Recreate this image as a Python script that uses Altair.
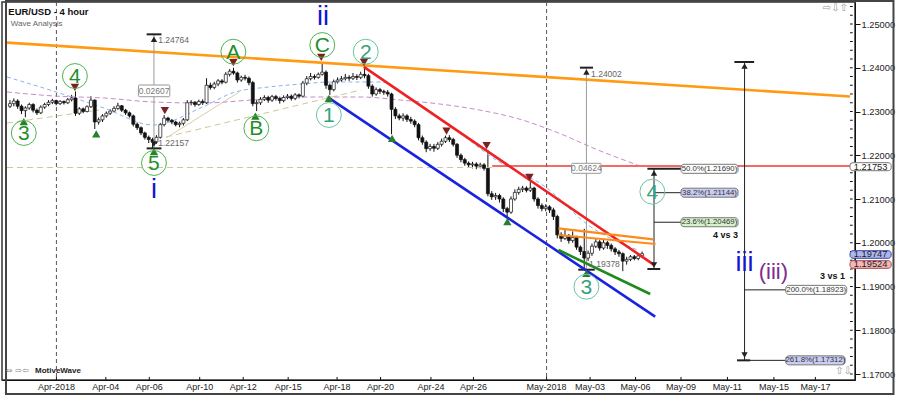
import altair as alt
import pandas as pd

# ---------------- price series (4-hour bars, bar index 0..164) ----------------
FIRST_OPEN = 1.2312
CLOSE = [
    1.2318, 1.2324, 1.2312, 1.2302, 1.2308, 1.2316, 1.2303, 1.2297, 1.2310, 1.2316,
    1.2321, 1.2325, 1.2318, 1.2323, 1.2320, 1.2327, 1.2331, 1.2296, 1.2306, 1.2300,
    1.2311, 1.2326, 1.2276, 1.2281, 1.2290, 1.2296, 1.2301, 1.2307, 1.2313, 1.2303,
    1.2297, 1.2290, 1.2271, 1.2263, 1.2251, 1.2241, 1.2236, 1.2230, 1.2241, 1.2270,
    1.2285, 1.2280, 1.2276, 1.2270, 1.2273, 1.2281, 1.2320, 1.2321, 1.2316, 1.2323,
    1.2320, 1.2360, 1.2355, 1.2363, 1.2370, 1.2367, 1.2385, 1.2392, 1.2388, 1.2372,
    1.2378, 1.2376, 1.2366, 1.2318, 1.2320, 1.2328, 1.2332, 1.2326, 1.2334, 1.2330,
    1.2325, 1.2332, 1.2335, 1.2330, 1.2338, 1.2335, 1.2365, 1.2375, 1.2380, 1.2378,
    1.2385, 1.2390, 1.2360, 1.2350, 1.2368, 1.2372, 1.2375, 1.2378, 1.2376, 1.2380,
    1.2378, 1.2385, 1.2382, 1.2358, 1.2340, 1.2350, 1.2346, 1.2344, 1.2340, 1.2305,
    1.2290, 1.2285, 1.2290, 1.2282, 1.2278, 1.2270, 1.2240, 1.2230, 1.2215, 1.2220,
    1.2216, 1.2225, 1.2232, 1.2240, 1.2236, 1.2225, 1.2200, 1.2190, 1.2182, 1.2178,
    1.2180, 1.2175, 1.2178, 1.2170, 1.2112, 1.2105, 1.2108, 1.2100, 1.2078, 1.2070,
    1.2100, 1.2115, 1.2122, 1.2125, 1.2120, 1.2125, 1.2100, 1.2085, 1.2078, 1.2082,
    1.2075, 1.2060, 1.2018, 1.2010, 1.2016, 1.2005, 1.2012, 1.1990, 1.1980, 1.1965,
    1.1976, 1.1992, 1.2002, 1.1988, 1.2000, 1.1994, 1.1986, 1.1979, 1.1975, 1.1958,
    1.1962, 1.1968, 1.1964, 1.1970, 1.1975,
]
HIGH = [
    1.2326, 1.2330, 1.2328, 1.2316, 1.2312, 1.2320, 1.2319, 1.2307, 1.2314, 1.2320,
    1.2326, 1.2329, 1.2327, 1.2326, 1.2325, 1.2331, 1.2338, 1.2346, 1.2310, 1.2309,
    1.2314, 1.2335, 1.2328, 1.2286, 1.2294, 1.2300, 1.2305, 1.2312, 1.2320, 1.2315,
    1.2306, 1.2300, 1.2293, 1.2275, 1.2266, 1.2254, 1.2245, 1.2240, 1.2246, 1.2274,
    1.2292, 1.2288, 1.2283, 1.2279, 1.2277, 1.2285, 1.2326, 1.2326, 1.2324, 1.2327,
    1.2328, 1.2376, 1.2366, 1.2368, 1.2374, 1.2374, 1.2390, 1.2397, 1.2400, 1.2391,
    1.2382, 1.2384, 1.2380, 1.2370, 1.2326, 1.2333, 1.2337, 1.2336, 1.2338, 1.2338,
    1.2334, 1.2337, 1.2340, 1.2339, 1.2342, 1.2341, 1.2370, 1.2381, 1.2388, 1.2385,
    1.2389, 1.2410, 1.2394, 1.2364, 1.2373, 1.2378, 1.2381, 1.2386, 1.2383, 1.2388,
    1.2385, 1.2391, 1.2402, 1.2386, 1.2362, 1.2355, 1.2354, 1.2350, 1.2349, 1.2343,
    1.2310, 1.2295, 1.2296, 1.2294, 1.2288, 1.2282, 1.2274, 1.2245, 1.2234, 1.2226,
    1.2226, 1.2230, 1.2238, 1.2245, 1.2246, 1.2240, 1.2228, 1.2204, 1.2194, 1.2186,
    1.2185, 1.2184, 1.2183, 1.2182, 1.2212, 1.2118, 1.2114, 1.2112, 1.2104, 1.2082,
    1.2106, 1.2122, 1.2128, 1.2130, 1.2129, 1.2140, 1.2128, 1.2104, 1.2090, 1.2088,
    1.2086, 1.2080, 1.2064, 1.2024, 1.2030, 1.2020, 1.2026, 1.2016, 1.1994, 1.2032,
    1.1982, 1.1998, 1.2010, 1.2006, 1.2008, 1.2004, 1.1998, 1.1990, 1.1984, 1.1978,
    1.1968, 1.1972, 1.1972, 1.1974, 1.1980,
]
LOW = [
    1.2308, 1.2312, 1.2306, 1.2294, 1.2287, 1.2304, 1.2298, 1.2292, 1.2294, 1.2306,
    1.2312, 1.2317, 1.2314, 1.2315, 1.2316, 1.2317, 1.2323, 1.2290, 1.2292, 1.2296,
    1.2298, 1.2308, 1.2260, 1.2270, 1.2276, 1.2286, 1.2292, 1.2298, 1.2304, 1.2299,
    1.2292, 1.2286, 1.2266, 1.2258, 1.2246, 1.2236, 1.2228, 1.22157, 1.2226, 1.2238,
    1.2266, 1.2275, 1.2271, 1.2266, 1.2264, 1.2268, 1.2278, 1.2314, 1.2311, 1.2313,
    1.2315, 1.2317, 1.2350, 1.2351, 1.2358, 1.2362, 1.2364, 1.2380, 1.2384, 1.2366,
    1.2368, 1.2371, 1.2360, 1.2312, 1.2301, 1.2315, 1.2324, 1.2320, 1.2322, 1.2325,
    1.2318, 1.2321, 1.2328, 1.2325, 1.2326, 1.2330, 1.2332, 1.2360, 1.2371, 1.2373,
    1.2375, 1.2382, 1.2352, 1.2338, 1.2346, 1.2364, 1.2368, 1.2371, 1.2370, 1.2372,
    1.2372, 1.2374, 1.2376, 1.2352, 1.2334, 1.2336, 1.2340, 1.2338, 1.2334, 1.2248,
    1.2283, 1.2280, 1.2278, 1.2276, 1.2272, 1.2264, 1.2234, 1.2224, 1.2207, 1.2210,
    1.2208, 1.2212, 1.2220, 1.2228, 1.2230, 1.2220, 1.2194, 1.2184, 1.2176, 1.2172,
    1.2170, 1.2168, 1.2170, 1.2165, 1.2106, 1.2098, 1.2098, 1.2092, 1.2070, 1.2059,
    1.2066, 1.2096, 1.2110, 1.2116, 1.2115, 1.2116, 1.2094, 1.2078, 1.2072, 1.2072,
    1.2068, 1.2052, 1.2010, 1.2002, 1.2006, 1.1998, 1.2000, 1.1984, 1.1972, 1.19378,
    1.1958, 1.1970, 1.1988, 1.1982, 1.1984, 1.1986, 1.1980, 1.1972, 1.1968, 1.1935,
    1.1950, 1.1958, 1.1960, 1.1960, 1.1966,
]
OPEN = [FIRST_OPEN] + CLOSE[:-1]

# ---------------- axes ----------------
X_DOMAIN = [-0.77, 217.95]
Y_DOMAIN = [1.168629, 1.255029]
TICK_POS = [12.05, 24.87, 36.15, 49.23, 60.51, 72.18, 84.87, 96.15, 109.23, 120.26,
            139.23, 150.51, 162.31, 174.10, 186.15, 198.21, 208.97]
TICK_LBL = ["Apr-2018", "Apr-04", "Apr-06", "Apr-10", "Apr-12", "Apr-15", "Apr-18",
            "Apr-20", "Apr-24", "Apr-26", "May-2018", "May-03", "May-06", "May-09",
            "May-11", "May-15", "May-17"]
DATE_LABEL_PRICE = 1.16703          # row of the date labels, under the plot
Y_TICKS = [1.17, 1.18, 1.19, 1.20, 1.21, 1.22, 1.23, 1.24, 1.25]
Y_MINOR = [round(1.170 + 0.002 * k, 3) for k in range(43)]
FRAME = [(-1.03, 1.25526, 229.23, 1.16543)]   # outer window frame

# ---------------- drawn lines: (x1, y1, x2, y2) in (bar, price) ----------------
ORANGE_LONG = [(-0.77, 1.24575, 217.95, 1.23343)]
RED_CHANNEL = [(91.8, 1.2402, 167.2, 1.1949)]
BLUE_CHANNEL = [(82.9, 1.2330, 167.4, 1.1831)]
GREEN_LINE = [(142.3, 1.19834, 166.1, 1.18829)]
ORANGE_SMALL = [(142.3, 1.2033, 166.9, 1.20079), (142.3, 1.20177, 167.5, 1.19971)]
TAN_DASHED = [(-0.77, 1.22737, 23.08, 1.23034), (40.51, 1.22417, 91.03, 1.23491),
              (-0.77, 1.2172, 125.1, 1.2172)]
TAN_SOLID = [(40.51, 1.22394, 59.49, 1.23446)]
RED_LEVEL = [(125.1, 1.21753, 217.95, 1.21753)]
V_DASH = [12.05, 139.23]

# moving averages (dashed)
MA_PINK_X = [-0.77, 11.54, 24.36, 37.18, 50.0, 62.82, 75.64, 91.03, 101.28, 111.54,
             121.79, 132.05, 142.31, 152.56, 162.82]
MA_PINK_Y = [1.23446, 1.23354, 1.23309, 1.23217, 1.23194, 1.23263, 1.23331, 1.23331,
             1.23263, 1.23171, 1.23034, 1.22829, 1.22509, 1.22120, 1.21777]
MA_BLUE_X = [-0.77, 12.82, 24.36, 37.18, 50.0, 58.46, 67.18, 75.64, 83.33, 96.15,
             104.62, 113.33, 126.15, 138.97, 150.0, 162.82]
MA_BLUE_Y = [1.23789, 1.23423, 1.23080, 1.22691, 1.23103, 1.23446, 1.23560, 1.23629,
             1.23674, 1.23674, 1.23263, 1.22737, 1.21891, 1.21274, 1.20406, 1.19834]

# ---------------- wave labels ----------------
MAJOR_LBL = ["3", "4", "5", "A", "B", "C"]
MAJOR_X = [3.59, 16.85, 37.36, 57.95, 63.92, 81.03]
MAJOR_Y = [1.22509, 1.23811, 1.21823, 1.24367, 1.22616, 1.24520]
MINOR_LBL = ["1", "2", "3", "4"]
MINOR_X = [82.74, 92.31, 149.56, 166.67]
MINOR_Y = [1.22920, 1.24367, 1.18995, 1.21167]
ROMAN_LBL = ["i", "ii", "iii"]
ROMAN_X = [37.36, 81.21, 190.59]
ROMAN_Y = [1.21206, 1.25167, 1.19530]

TRI_UP_X = [3.59, 22.38, 37.36, 63.67, 82.74, 99.15, 129.05, 149.56]
TRI_UP_Y = [1.22767, 1.22486, 1.22081, 1.22897, 1.23302, 1.22387, 1.20481, 1.19302]
TRI_DN_X = [16.85, 40.18, 57.95, 80.77, 91.87, 113.26, 123.67, 134.79]
TRI_DN_Y = [1.23553, 1.23018, 1.24115, 1.24239, 1.24125, 1.22554, 1.22218, 1.21496]

# ---------------- measurement tools ----------------
GRAY_MEASURE = [(37.36, 1.24764, 1.22157), (149.56, 1.24002, 1.19378)]
BLACK_MEASURE = [(167.1, 1.21690, 1.19400), (190.59, 1.24131, 1.17312)]
CAPS = [(35.46, 1.24764, 39.31, 1.24764), (35.46, 1.22157, 39.31, 1.22157),
        (147.87, 1.24002, 151.28, 1.24002), (147.44, 1.19384, 151.72, 1.19384),
        (165.38, 1.21690, 174.10, 1.21690), (165.38, 1.19400, 168.72, 1.19400),
        (187.95, 1.24131, 193.08, 1.24131), (188.64, 1.17312, 192.05, 1.17312)]
FIB_TICKS = [(167.1, 1.21144, 174.10, 1.21144), (167.1, 1.20469, 174.10, 1.20469),
             (190.59, 1.18923, 201.28, 1.18923), (190.59, 1.17312, 201.28, 1.17312)]
ARROW_UP = [(37.36, 1.24650), (149.56, 1.23903), (167.1, 1.21594), (190.59, 1.24040)]
ARROW_DN = [(37.36, 1.22257), (167.1, 1.19491), (190.59, 1.17434)]
MEAS_TXT = ["1.24764", "1.22157", "1.24002", "1.19378"]
MEAS_TXT_X = [38.46, 38.46, 150.77, 150.26]
MEAS_TXT_Y = [1.24634, 1.22273, 1.23857, 1.19503]
DIFF_TXT = ["0.02607", "0.04624"]
DIFF_BOX = [(33.33, 1.23606, 41.46, 1.23338), (145.72, 1.21816, 153.41, 1.21587)]

FIB_TXT = ["50.0%(1.21690)", "38.2%(1.21144)", "23.6%(1.20469)", "200.0%(1.18923)",
           "261.8%(1.17312)"]
FIB_BOX = [(174.10, 1.21793, 188.90, 1.21587), (174.10, 1.21247, 188.90, 1.21041),
           (174.10, 1.20572, 188.90, 1.20366), (201.28, 1.19026, 217.10, 1.18820),
           (201.28, 1.17415, 216.67, 1.17209)]
FIB_FILL = ["#ffffff", "#c9cdf3", "#d6f2cc", "#ffffff", "#c9cdf3"]

TAG_TXT = ["1.21753", "1.19747", "1.19524"]
TAG_BOX = [(217.95, 1.21830, 228.64, 1.21647), (217.95, 1.19818, 228.64, 1.19645),
           (217.95, 1.19590, 228.64, 1.19416)]
TAG_FILL = ["#ffffff", "#aeb6ee", "#f3b9b9"]
TAG_STROKE = ["#777777", "#3344aa", "#aa4444"]

# ---------------- helpers ----------------
xs = alt.Scale(domain=X_DOMAIN, nice=False, zero=False)
ys = alt.Scale(domain=Y_DOMAIN, nice=False, zero=False)
FONT = "Liberation Sans"

X_AXIS = alt.Axis(values=TICK_POS, labels=False, ticks=False, title=None, grid=False,
                  domainColor="#111")
Y_AXIS = alt.Axis(values=Y_TICKS, format=".5f", orient="right", title=None, grid=False,
                  tickSize=5, labelPadding=1, labelFont=FONT, labelFontSize=9.3,
                  labelColor="#222", domainColor="#111", tickColor="#111",
                  labelOverlap=False, labelFlush=False)


def X(f):
    return alt.X(f"{f}:Q", scale=xs, axis=X_AXIS)


def Y(f):
    return alt.Y(f"{f}:Q", scale=ys, axis=Y_AXIS)


def segs(rows, color, width, dash=None):
    df = pd.DataFrame(rows, columns=["x", "y", "x2", "y2"])
    kw = dict(color=color, strokeWidth=width)
    if dash:
        kw["strokeDash"] = dash
    return alt.Chart(df).mark_rule(**kw).encode(x=X("x"), y=Y("y"), x2="x2:Q", y2="y2:Q")


def boxes(rows, fills, strokes, radius=3, sw=1):
    df = pd.DataFrame(rows, columns=["x", "y", "x2", "y2"])
    df["fill"] = fills
    df["stroke"] = strokes
    return alt.Chart(df).mark_rect(cornerRadius=radius, strokeWidth=sw).encode(
        x=X("x"), y=Y("y"), x2="x2:Q", y2="y2:Q",
        fill=alt.Fill("fill:N", scale=None), stroke=alt.Stroke("stroke:N", scale=None))


def texts(lbls, xv, yv, **kw):
    df = pd.DataFrame({"t": lbls, "x": xv, "y": yv})
    return alt.Chart(df).mark_text(**kw).encode(x=X("x"), y=Y("y"), text="t:N")


def points(xv, yv, **kw):
    df = pd.DataFrame({"x": xv, "y": yv})
    return alt.Chart(df).mark_point(**kw).encode(x=X("x"), y=Y("y"))


def chrome(txt, px, py, **kw):
    return alt.Chart(pd.DataFrame({"a": [0]})).mark_text(**kw).encode(
        x=alt.value(px), y=alt.value(py), text=alt.value(txt))


candles = pd.DataFrame({"i": list(range(len(CLOSE))), "o": OPEN, "h": HIGH, "l": LOW, "c": CLOSE})

wicks = alt.Chart(candles).mark_rule(color="#111", strokeWidth=1).encode(
    x=X("i"), y=Y("l"), y2="h:Q")
bodies = alt.Chart(candles).mark_bar(width=3, stroke="#111", strokeWidth=0.7).encode(
    x=X("i"), y=Y("o"), y2="c:Q",
    fill=alt.condition("datum.c >= datum.o", alt.value("white"), alt.value("#111")))

minor_df = pd.DataFrame({"p": Y_MINOR, "x": [X_DOMAIN[1]] * len(Y_MINOR),
                         "x2": [X_DOMAIN[1] + 0.7] * len(Y_MINOR)})
minor_ticks = alt.Chart(minor_df).mark_rule(color="#111", strokeWidth=1).encode(
    x=X("x"), x2="x2:Q", y=Y("p"))

# date ticks point up into the plot, as in the source chart
xtick_df = pd.DataFrame({"x": TICK_POS, "y": [Y_DOMAIN[0]] * len(TICK_POS),
                         "y2": [Y_DOMAIN[0] + 0.0007] * len(TICK_POS)})
x_ticks = alt.Chart(xtick_df).mark_rule(color="#111", strokeWidth=1).encode(
    x=X("x"), y=Y("y"), y2="y2:Q")

date_labels = texts(TICK_LBL, TICK_POS, [DATE_LABEL_PRICE] * len(TICK_POS), font=FONT,
                    fontSize=9, color="#222", align="center", baseline="middle")

frame = boxes(FRAME, ["transparent"], ["#444444"], radius=0, sw=2)

vdash = alt.Chart(pd.DataFrame({"x": V_DASH})).mark_rule(
    color="#555", strokeWidth=1, strokeDash=[4, 3]).encode(x=X("x"))

ma_pink = alt.Chart(pd.DataFrame({"x": MA_PINK_X, "y": MA_PINK_Y})).mark_line(
    color="#c98bc9", strokeWidth=1, strokeDash=[5, 3], interpolate="monotone").encode(x=X("x"), y=Y("y"))
ma_blue = alt.Chart(pd.DataFrame({"x": MA_BLUE_X, "y": MA_BLUE_Y})).mark_line(
    color="#8fb0f0", strokeWidth=1, strokeDash=[4, 3], interpolate="monotone").encode(x=X("x"), y=Y("y"))

meas_gray = segs([(m[0], m[1], m[0], m[2]) for m in GRAY_MEASURE], "#9a9a9a", 1)
meas_black = segs([(m[0], m[1], m[0], m[2]) for m in BLACK_MEASURE], "#222", 1)

layers = [
    wicks,
    vdash,
    segs(TAN_DASHED, "#cfc795", 1, [6, 4]),
    segs(TAN_SOLID, "#d8d0a8", 1),
    ma_pink, ma_blue,
    bodies,
    minor_ticks,
    x_ticks,
    date_labels,
    segs(ORANGE_LONG, "#ff9a12", 2.6),
    segs(RED_LEVEL, "#ee3a30", 1.5),
    meas_gray, meas_black,
    segs(FIB_TICKS, "#222", 1),
    segs(CAPS, "#222", 2),
    segs(RED_CHANNEL, "#ee2222", 2.6),
    segs(BLUE_CHANNEL, "#1a22e0", 2.6),
    segs(GREEN_LINE, "#1e8a1e", 2.6),
    segs(ORANGE_SMALL, "#ff8a1a", 2.2),
    points([a[0] for a in ARROW_UP], [a[1] for a in ARROW_UP], shape="triangle-up",
           filled=True, size=40, color="#222", opacity=1),
    points([a[0] for a in ARROW_DN], [a[1] for a in ARROW_DN], shape="triangle-down",
           filled=True, size=40, color="#222", opacity=1),
    points(TRI_UP_X, TRI_UP_Y, shape="triangle-up", filled=True, size=70, color="#2a7f2a", opacity=1),
    points(TRI_DN_X, TRI_DN_Y, shape="triangle-down", filled=True, size=70, color="#7d2020", opacity=1),
    points(MAJOR_X, MAJOR_Y, shape="circle", filled=False, size=620, color="#4fb34f",
           strokeWidth=1, opacity=1),
    points(MINOR_X, MINOR_Y, shape="circle", filled=False, size=620, color="#6cc3a0",
           strokeWidth=1, opacity=1),
    texts(MAJOR_LBL, MAJOR_X, MAJOR_Y, font=FONT, fontSize=21, color="#1f8f2a",
          align="center", baseline="middle", dy=1),
    texts(MINOR_LBL, MINOR_X, MINOR_Y, font=FONT, fontSize=21, color="#35a27b",
          align="center", baseline="middle", dy=1),
    texts(ROMAN_LBL, ROMAN_X, ROMAN_Y, font=FONT, fontSize=27, color="#1414d4",
          align="center", baseline="middle"),
    texts(["(iii)"], [198.08], [1.19338], font=FONT, fontSize=22, color="#7b2d8e",
          align="center", baseline="middle"),
    texts(["4 vs 3"], [188.9], [1.20177], font=FONT, fontSize=9, fontWeight="bold",
          color="#111", align="right", baseline="middle"),
    texts(["3 vs 1"], [216.67], [1.19229], font=FONT, fontSize=9, fontWeight="bold",
          color="#111", align="right", baseline="middle"),
    texts(MEAS_TXT, MEAS_TXT_X, MEAS_TXT_Y, font=FONT, fontSize=8.5, color="#666",
          align="left", baseline="middle"),
    boxes(DIFF_BOX, ["#ffffff"] * 2, ["#999999"] * 2, radius=1),
    texts(DIFF_TXT, [(b[0] + b[2]) / 2 for b in DIFF_BOX], [(b[1] + b[3]) / 2 for b in DIFF_BOX],
          font=FONT, fontSize=8.5, color="#777", align="center", baseline="middle"),
    boxes(FIB_BOX, FIB_FILL, ["#777777"] * 5, radius=3),
    texts(FIB_TXT, [(b[0] + b[2]) / 2 for b in FIB_BOX], [(b[1] + b[3]) / 2 for b in FIB_BOX],
          font=FONT, fontSize=7.8, color="#333", align="center", baseline="middle"),
    boxes(TAG_BOX, TAG_FILL, TAG_STROKE, radius=3),
    texts(TAG_TXT, [(b[0] + b[2]) / 2 for b in TAG_BOX], [(b[1] + b[3]) / 2 for b in TAG_BOX],
          font=FONT, fontSize=9.3, color="#222", align="center", baseline="middle"),
    frame,
    chrome("EUR/USD - 4 hour", 6.3, 9.5, font=FONT, fontSize=9.5, fontWeight="bold",
           color="#111", align="left", baseline="middle"),
    chrome("Wave Analysis", 8.7, 22, font=FONT, fontSize=8, color="#666",
           align="left", baseline="middle"),
    chrome("\u21d4 \u21e8\u21e6", 4, 369, font="DejaVu Sans", fontSize=8, color="#888",
           align="left", baseline="middle"),
    chrome("MotiveWave", 33, 369, font=FONT, fontSize=8, fontWeight="bold", color="#222",
           align="left", baseline="middle"),
    chrome("\u21e8\u21e9\u21e7", 846, 6, font="DejaVu Sans", fontSize=10, color="#999",
           align="right", baseline="middle"),
    chrome("\u21e7\u21e9", 850, 369, font="DejaVu Sans", fontSize=10, color="#999",
           align="right", baseline="middle"),
]

chart = alt.layer(*layers).properties(
    width=853, height=378,
    autosize=alt.AutoSizeParams(type="none"),
    padding={"left": 2, "top": 2, "right": 45, "bottom": 15},
    background="white",
).configure_view(stroke="#333", strokeWidth=1.5)

chart.save("out.html", embed_options={"renderer": "svg", "actions": False})
